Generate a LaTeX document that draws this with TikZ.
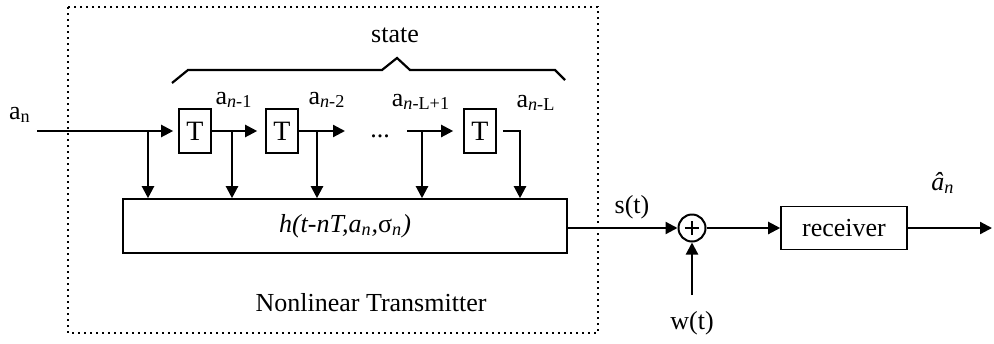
\documentclass[tikz,border=0pt]{standalone}
\usepackage{fontspec}
\setmainfont{Liberation Serif}
\usetikzlibrary{arrows.meta}

\tikzset{
    arr/.style = {line width=1.1pt, -{Triangle[length=6pt, width=6pt]}},
    delay/.style = {draw, line width=0.8pt, minimum width=16pt, minimum height=22pt,
        inner sep=0pt, font=\fontsize{14}{14}\selectfont},
    blk/.style = {draw, line width=0.8pt, inner sep=0pt, font=\fontsize{13}{13}\selectfont},
    lbl/.style = {inner sep=0pt, font=\fontsize{13}{13}\selectfont},
}

\begin{document}
\begin{tikzpicture}[x=0.5pt, y=-0.5pt]
    \useasboundingbox (0, 0) rectangle (994, 343);
    % transmitter frame
    \draw[line width=1pt, dash pattern=on 1pt off 2pt] (68, 7) rectangle (598, 333);
    \node[lbl] (state) at (395, 35) {state};
    \draw[line width=1.1pt] (172, 83) -- (188, 70) -- (382, 70) -- (397, 58)
        -- (410, 70) -- (555, 70) -- (565, 80);
    \node[lbl] (tx) at (371, 303) {Nonlinear Transmitter};

    % shift register
    \node[delay] (d1) at (195, 131) {T};
    \node[delay] (d2) at (282, 131) {T};
    \node[delay] (dL) at (480, 131) {T};
    \node[blk, minimum width=222pt, minimum height=27pt] (h) at (345, 226)
        {\textit{h(t-nT,a\textsubscript{n},}σ\textsubscript{\textit{n}}\textit{)}};

    \coordinate (in) at (37, 131);
    \coordinate (r2) at (345, 131);
    \coordinate (r3) at (407, 131);
    \coordinate (t0) at (148, 131);
    \coordinate (t1) at (232, 131);
    \coordinate (t2) at (317, 131);
    \coordinate (t3) at (422, 131);
    \coordinate (t4) at (520, 131);

    \draw[arr, shorten >=2.5pt] (in) -- (d1.west);
    \draw[arr, shorten >=4pt] (d1.east) -- (d2.west);
    \draw[arr] (d2.east) -- (r2);
    \draw[arr, shorten >=5pt] (r3) -- (dL.west);
    \node[lbl] (dots) at (380, 136) {...};
    \foreach \t in {t0, t1, t2, t3}
        \draw[arr] (\t) -- (\t |- h.north);
    \draw[arr, shorten <=3pt] (dL.east) -| (t4 |- h.north);

    \node[lbl] (an) at (20, 115) {a\textsubscript{n}};
    \node[lbl] (an1) at (234, 100) {a\textsubscript{\textit{n}-1}};
    \node[lbl] (an2) at (327, 100) {a\textsubscript{\textit{n}-2}};
    \node[lbl] (anL1) at (421, 102) {a\textsubscript{\textit{n}-L+1}};
    \node[lbl] (anL) at (536, 103) {a\textsubscript{\textit{n}-L}};

    % channel and receiver
    \node[draw, circle, line width=1pt, minimum size=13.5pt, inner sep=0pt] (sum)
        at (692, 228) {};
    \draw[line width=1.3pt] ([xshift=-3.6pt]sum.center) -- ([xshift=3.6pt]sum.center)
        ([yshift=-3.6pt]sum.center) -- ([yshift=3.6pt]sum.center);
    \node[blk, minimum width=63pt, minimum height=21.5pt] (rx) at (844, 228) {receiver};
    \coordinate (out) at (992, 228);
    \coordinate (w) at (692, 295);

    \draw[arr] (sum -| h.east) -- (sum.west);
    \draw[arr] (sum.east) -- (rx.west);
    \draw[arr] (rx.east) -- (out);
    \draw[arr] (w) -- (sum.south);

    \node[lbl] (st) at (632, 207) {s(t)};
    \node[lbl] (wt) at (692, 323) {w(t)};
    \node[lbl] (ahat) at (943, 183) {\textit{â}\textsubscript{\textit{n}}};
\end{tikzpicture}
\end{document}
